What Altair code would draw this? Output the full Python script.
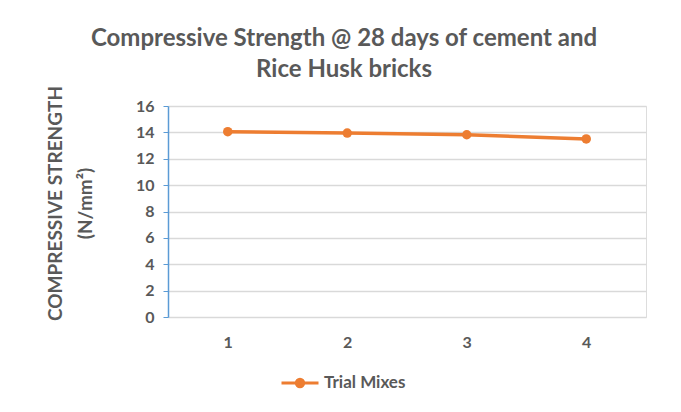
import altair as alt
import pandas as pd

mixes = ["1", "2", "3", "4"]
strength = [14.05, 13.95, 13.82, 13.5]
series = ["Trial Mixes"] * 4

df = pd.DataFrame({"mix": mixes, "strength": strength, "series": series})

FONT = "Lato"
GREY = "#595959"
ORANGE = "#ED7D31"

legend_symbol = ("M -1 0 L 1 0 M -0.2 0 A 0.2 0.2 0 1 0 0.2 0 "
                 "A 0.2 0.2 0 1 0 -0.2 0 Z")

base = alt.Chart(df).encode(
    x=alt.X("mix:N", sort=mixes, title=None,
            scale=alt.Scale(paddingInner=0, paddingOuter=0.5),
            axis=alt.Axis(labelAngle=0, domain=False, ticks=False,
                          labelFont=FONT, labelFontSize=16, labelFontWeight="bold",
                          labelColor=GREY, labelPadding=17)),
    y=alt.Y("strength:Q", scale=alt.Scale(domain=[0, 16]),
            title=["COMPRESSIVE STRENGTH", "(N/mm²)"],
            axis=alt.Axis(values=list(range(0, 17, 2)), domainColor="#5B9BD5",
                          domainWidth=1.5, tickColor="#5B9BD5", tickSize=5,
                          gridColor="#D9D9D9", gridWidth=1.3,
                          labelFont=FONT, labelFontSize=16, labelFontWeight="bold",
                          labelColor=GREY, labelPadding=9,
                          titleFont=FONT, titleFontSize=19, titleFontWeight="bold",
                          titleColor=GREY, titleX=-113, titleY=97,
                          titleAngle=-90, titleAlign="center", titleBaseline="middle",
                          titleLineHeight=30)),
    color=alt.Color("series:N", scale=alt.Scale(range=[ORANGE]),
                    legend=alt.Legend(title=None, orient="none", legendX=112, legendY=257,
                                      symbolType=legend_symbol, symbolSize=1369,
                                      symbolStrokeWidth=3, symbolFillColor=ORANGE,
                                      labelFont=FONT, labelFontSize=17, labelFontWeight="bold",
                                      labelColor=GREY, labelOffset=4)),
)

line = base.mark_line(strokeWidth=3.5, point=alt.OverlayMarkDef(size=90, filled=True, opacity=1))

chart = line.properties(
    width=478, height=211,
    padding={"left": 160, "top": 98, "right": 27, "bottom": 87},
    autosize=alt.AutoSizeParams(type="none"),
    title=alt.TitleParams(
        text=["Compressive Strength @ 28 days of cement and", "Rice Husk bricks"],
        font=FONT, fontSize=24, fontWeight="bold", color=GREY,
        anchor="middle", dx=-63, offset=3, lineHeight=31),
).configure_view(stroke=None).configure(background="white")

chart.save("out.html", embed_options={"renderer": "svg", "actions": False})
